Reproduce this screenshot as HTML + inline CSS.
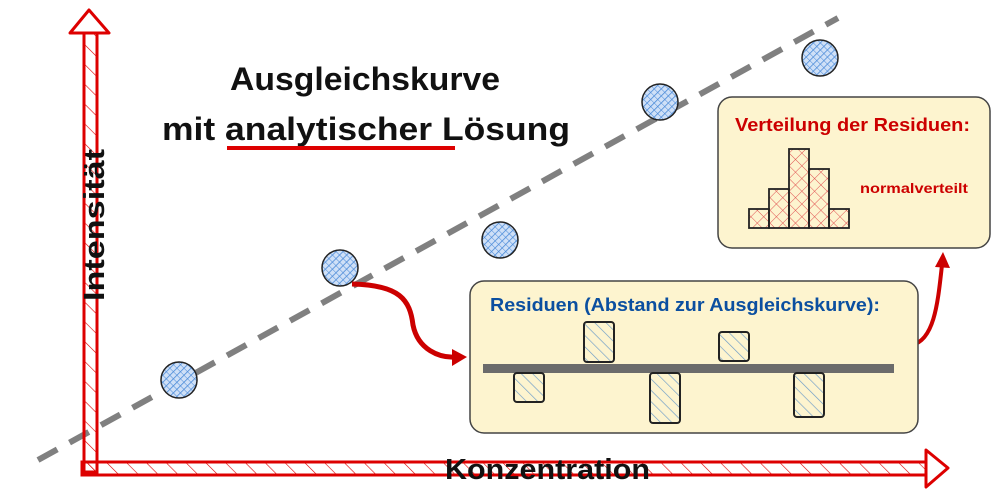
<!DOCTYPE html>
<html><head><meta charset="utf-8"><style>
html,body{margin:0;padding:0;background:#fff;}
svg{display:block;}
text{font-family:"Comic Sans MS","Liberation Sans",sans-serif;font-weight:bold;}
</style></head><body>
<svg width="1000" height="501" viewBox="0 0 1000 501" xmlns="http://www.w3.org/2000/svg">
<defs>
<pattern id="hb" width="5" height="5" patternUnits="userSpaceOnUse" patternTransform="rotate(45)">
<rect width="5" height="5" fill="#cfe0f7"/><line x1="0" y1="0" x2="0" y2="5" stroke="#4a8ad8" stroke-width="1.6"/><line x1="0" y1="0" x2="5" y2="0" stroke="#4a8ad8" stroke-width="1"/></pattern>
<pattern id="hs" width="8" height="8" patternUnits="userSpaceOnUse" patternTransform="rotate(-45)">
<line x1="0" y1="0" x2="0" y2="8" stroke="#6a9ac8" stroke-width="1.3"/></pattern>
<pattern id="hr" width="9" height="9" patternUnits="userSpaceOnUse" patternTransform="rotate(45)">
<line x1="0" y1="0" x2="0" y2="9" stroke="#e05050" stroke-width="1"/><line x1="0" y1="0" x2="9" y2="0" stroke="#e05050" stroke-width="1"/></pattern>
<pattern id="ha" width="14" height="14" patternUnits="userSpaceOnUse" patternTransform="rotate(-45)">
<line x1="0" y1="0" x2="0" y2="14" stroke="#d00" stroke-width="1.2"/></pattern>
</defs>
<line x1="38" y1="460" x2="838" y2="18" stroke="#808080" stroke-width="6" stroke-dasharray="22,14"/>
<rect x="84" y="32" width="13" height="440" fill="url(#ha)" stroke="#d00" stroke-width="3"/>
<path d="M70 33 L89 10 L109 33 Z" fill="#fff" stroke="#d00" stroke-width="3" stroke-linejoin="round"/>
<rect x="82" y="462" width="846" height="13" fill="url(#ha)" stroke="#d00" stroke-width="3"/>
<path d="M926 450 L948 468 L926 487 Z" fill="#fff" stroke="#d00" stroke-width="3" stroke-linejoin="round"/>
<text x="0" y="0" font-size="29" fill="#111" transform="translate(104,225) rotate(-90)" text-anchor="middle" textLength="152" lengthAdjust="spacingAndGlyphs">Intensität</text>
<text x="445" y="479" font-size="29" fill="#111" textLength="205" lengthAdjust="spacingAndGlyphs">Konzentration</text>
<text x="230" y="90" font-size="32" fill="#111" textLength="270" lengthAdjust="spacingAndGlyphs">Ausgleichskurve</text>
<text x="162" y="140" font-size="32" fill="#111" textLength="408" lengthAdjust="spacingAndGlyphs">mit analytischer Lösung</text>
<line x1="227" y1="148" x2="455" y2="148" stroke="#d00" stroke-width="4"/>
<g stroke="#222" stroke-width="1.5" fill="url(#hb)">
<circle cx="179" cy="380" r="18"/>
<circle cx="340" cy="268" r="18"/>
<circle cx="500" cy="240" r="18"/>
<circle cx="660" cy="102" r="18"/>
<circle cx="820" cy="58" r="18"/>
</g>
<path d="M352 284 C400 285 410 300 413 325 C418 350 440 358 455 357" fill="none" stroke="#c00" stroke-width="5"/>
<path d="M452 349 L467 357 L452 366 Z" fill="#c00"/>
<path d="M912 345 C935 340 938 300 942 265" fill="none" stroke="#c00" stroke-width="4"/>
<path d="M935 267 L943 252 L950 268 Z" fill="#c00"/>
<rect x="470" y="281" width="448" height="152" rx="14" fill="#fdf4cf" stroke="#444" stroke-width="1.5"/>
<text x="490" y="311" font-size="18" fill="#0b4fa0" textLength="390" lengthAdjust="spacingAndGlyphs">Residuen (Abstand zur Ausgleichskurve):</text>
<rect x="483" y="364" width="411" height="9" fill="#6b6b6b"/>
<g stroke="#222" stroke-width="2" fill="url(#hs)">
<rect x="514" y="373" width="30" height="29" rx="3"/>
<rect x="584" y="322" width="30" height="40" rx="3"/>
<rect x="650" y="373" width="30" height="50" rx="3"/>
<rect x="719" y="332" width="30" height="29" rx="3"/>
<rect x="794" y="373" width="30" height="44" rx="3"/>
</g>
<rect x="718" y="97" width="272" height="151" rx="14" fill="#fdf4cf" stroke="#444" stroke-width="1.5"/>
<text x="735" y="131" font-size="18" fill="#c00" textLength="235" lengthAdjust="spacingAndGlyphs">Verteilung der Residuen:</text>
<g stroke="#222" stroke-width="1.8" fill="url(#hr)">
<rect x="749" y="209" width="20" height="19"/>
<rect x="769" y="189" width="20" height="39"/>
<rect x="789" y="149" width="20" height="79"/>
<rect x="809" y="169" width="20" height="59"/>
<rect x="829" y="209" width="20" height="19"/>
</g>
<text x="860" y="193" font-size="14" fill="#c00" textLength="108" lengthAdjust="spacingAndGlyphs">normalverteilt</text>
</svg>
</body></html>
